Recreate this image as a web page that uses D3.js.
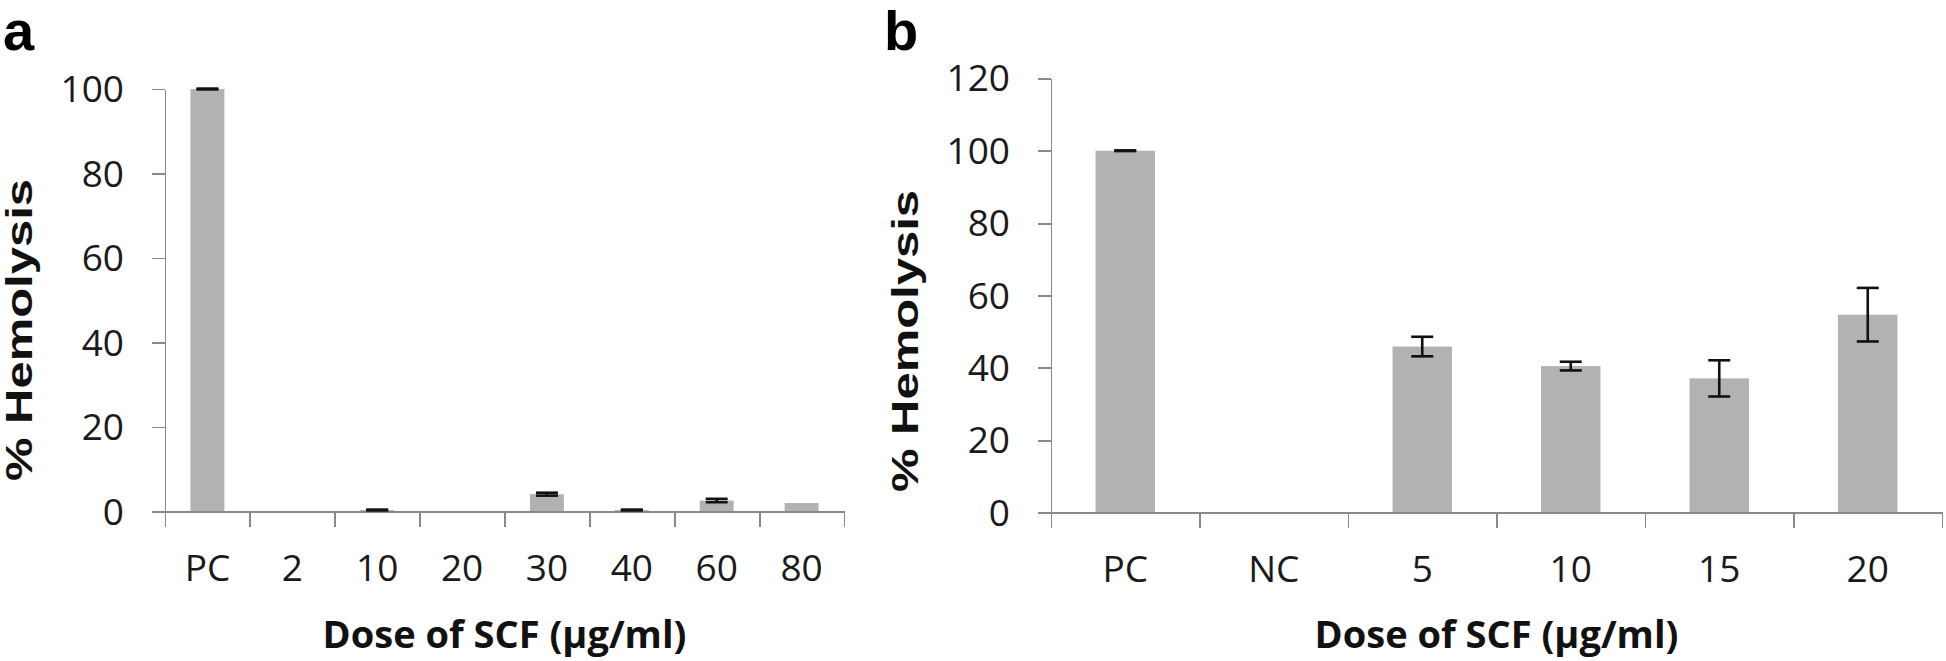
<!DOCTYPE html>
<html>
<head>
<meta charset="utf-8">
<script src="https://cdn.jsdelivr.net/npm/d3@7"></script>
<style>
    body { margin: 0; background: white; }
    .axis path, .axis line { stroke: #898989; stroke-width: 1.8; shape-rendering: crispEdges; }
    .ticklabel { font-family: "Open Sans"; font-size: 37px; fill: #1a1a1a; }
    .bar { fill: #b2b2b2; }
    .err { stroke: #111; stroke-width: 2.6; }
    .ylabel { font-family: "Liberation Sans", Arial; font-weight: bold; font-size: 36px; fill: #111; }
    .xlabel { font-family: "Open Sans"; font-weight: bold; font-size: 38px; fill: #111; }
    .panel { font-family: "Liberation Sans", Arial; font-weight: bold; font-size: 56px; fill: #000; }
</style>
</head>
<body>
<div id="chart"></div>
<script>
// panel a
var catsA = ["PC", "2", "10", "20", "30", "40", "60", "80"];
var valsA = [100, 0, 0.35, 0, 4.1, 0.35, 2.6, 2.0];
var errsA = [0.1, 0, 0.1, 0, 0.35, 0.1, 0.4, 0];
var yTicksA = [0, 20, 40, 60, 80, 100];

// panel b
var catsB = ["PC", "NC", "5", "10", "15", "20"];
var valsB = [100, 0, 45.9, 40.5, 37.1, 54.7];
var errsB = [0.1, 0, 2.7, 1.2, 5.0, 7.4];
var yTicksB = [0, 20, 40, 60, 80, 100, 120];

var xTitle = "Dose of SCF (\u00b5g/ml)";
var yTitle = "% Hemolysis";

var svg = d3.select("#chart").append("svg")
    .attr("width", 1946)
    .attr("height", 661);

function drawPanel(opt) {
    var x = d3.scaleBand().domain(opt.cats).range([opt.left, opt.right]).paddingInner(0).paddingOuter(0);
    var y = d3.scaleLinear().domain([0, d3.max(opt.yTicks)]).range([opt.bottom, opt.top]);
    var bw = x.bandwidth() / 2.5;
    var data = opt.cats.map(function (c, i) { return { name: c, value: opt.vals[i], err: opt.errs[i] }; });

    var g = svg.append("g");

    // bars
    g.selectAll(".bar")
        .data(data)
        .enter().append("rect")
        .attr("class", "bar")
        .attr("x", function (d) { return x(d.name) + (x.bandwidth() - bw) / 2; })
        .attr("y", function (d) { return y(d.value); })
        .attr("width", bw)
        .attr("height", function (d) { return y(0) - y(d.value); });

    // y axis
    var yAxis = d3.axisLeft(y).tickValues(opt.yTicks).tickSize(13).tickSizeOuter(0).tickFormat(d3.format("d"));
    var ya = g.append("g")
        .attr("class", "axis")
        .attr("transform", "translate(" + opt.left + ",0)")
        .call(yAxis);
    ya.selectAll("text").attr("class", "ticklabel").attr("x", -41).attr("dy", "0.34em");

    // x axis boundary ticks
    var xb = d3.scaleLinear().domain([0, opt.cats.length]).range([opt.left, opt.right]);
    g.append("g")
        .attr("class", "axis")
        .attr("transform", "translate(0," + opt.bottom + ")")
        .call(d3.axisBottom(xb).ticks(opt.cats.length).tickSize(15).tickSizeOuter(0).tickFormat(""));

    // x category labels
    var xa = g.append("g")
        .attr("class", "axis")
        .attr("transform", "translate(0," + opt.bottom + ")")
        .call(d3.axisBottom(x).tickSize(0).tickPadding(0));
    xa.select(".domain").remove();
    xa.selectAll("text").attr("class", "ticklabel").attr("y", 57).attr("dy", "0.34em");

    // error bars
    var cap = 11;
    var eb = g.selectAll(".errg")
        .data(data.filter(function (d) { return d.err > 0; }))
        .enter().append("g");
    eb.append("line")
        .attr("class", "err")
        .attr("x1", function (d) { return x(d.name) + x.bandwidth() / 2; })
        .attr("x2", function (d) { return x(d.name) + x.bandwidth() / 2; })
        .attr("y1", function (d) { return y(d.value + d.err); })
        .attr("y2", function (d) { return y(d.value - d.err); });
    eb.append("line")
        .attr("class", "err")
        .attr("x1", function (d) { return x(d.name) + x.bandwidth() / 2 - cap; })
        .attr("x2", function (d) { return x(d.name) + x.bandwidth() / 2 + cap; })
        .attr("y1", function (d) { return y(d.value + d.err); })
        .attr("y2", function (d) { return y(d.value + d.err); });
    eb.append("line")
        .attr("class", "err")
        .attr("x1", function (d) { return x(d.name) + x.bandwidth() / 2 - cap; })
        .attr("x2", function (d) { return x(d.name) + x.bandwidth() / 2 + cap; })
        .attr("y1", function (d) { return y(Math.max(0, d.value - d.err)); })
        .attr("y2", function (d) { return y(Math.max(0, d.value - d.err)); });

    // titles
    g.append("text")
        .attr("class", "xlabel")
        .attr("x", (opt.left + opt.right) / 2)
        .attr("y", 648)
        .attr("text-anchor", "middle")
        .text(xTitle);

    g.append("text")
        .attr("class", "ylabel")
        .attr("transform", "translate(" + opt.ylx + "," + opt.yly + ") rotate(-90)")
        .attr("text-anchor", "middle")
        .attr("dy", "0.36em")
        .attr("textLength", 302)
        .attr("lengthAdjust", "spacingAndGlyphs")
        .text(yTitle);

    g.append("text")
        .attr("class", "panel")
        .attr("x", opt.px)
        .attr("y", 50)
        .text(opt.letter);
}

drawPanel({ cats: catsA, vals: valsA, errs: errsA, yTicks: yTicksA,
    left: 165, right: 844, top: 89, bottom: 511.5,
    ylx: 19, yly: 330, px: 3, letter: "a" });

drawPanel({ cats: catsB, vals: valsB, errs: errsB, yTicks: yTicksB,
    left: 1051, right: 1942, top: 78.3, bottom: 512.7,
    ylx: 905, yly: 341, px: 884, letter: "b" });
</script>
</body>
</html>
